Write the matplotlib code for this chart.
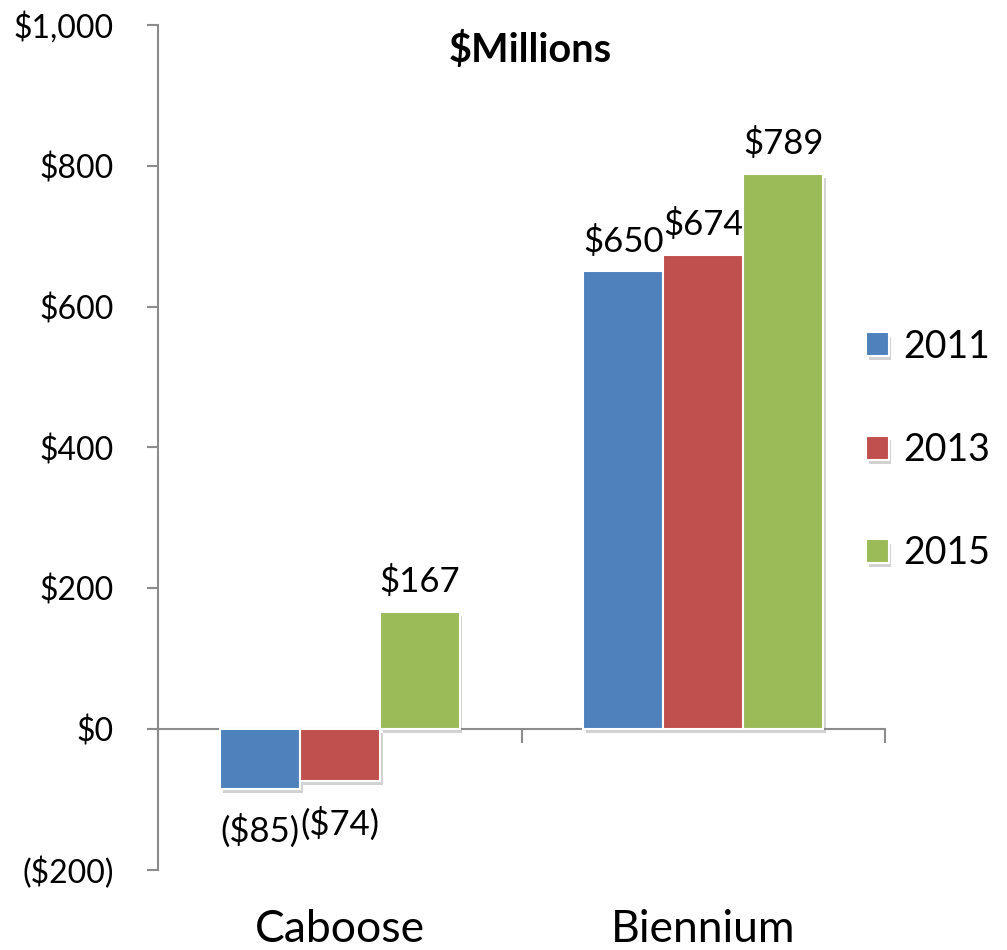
import matplotlib
matplotlib.use("Agg")
import matplotlib.pyplot as plt
import matplotlib.patheffects as pe
import numpy as np

plt.rcParams["font.family"] = ["Lato", "DejaVu Sans"]

categories = ["Caboose", "Biennium"]
years = ["2011", "2013", "2015"]
values = {
    "2011": [-85, 650],
    "2013": [-74, 674],
    "2015": [167, 789],
}
colors = {"2011": "#4F81BD", "2013": "#C0504D", "2015": "#9BBB59"}
yticks = [-200, 0, 200, 400, 600, 800, 1000]


def money(v):
    return f"(${abs(v):,})" if v < 0 else f"${v:,}"


fig = plt.figure(figsize=(10.07, 9.5), dpi=100)
ax = fig.add_axes([158 / 1007, 80 / 950, 727 / 1007, 845 / 950])

x = np.arange(len(categories))
w = 0.22
shadow = [pe.SimplePatchShadow(offset=(2, -3), shadow_rgbFace="0.5", alpha=0.35), pe.Normal()]
for i, yr in enumerate(years):
    xs = x + (i - 1) * w
    bars = ax.bar(xs, values[yr], width=w, color=colors[yr], edgecolor="white",
                  linewidth=1.5, label=yr, zorder=3)
    for b in bars:
        b.set_path_effects(shadow)
    for xi, v in zip(xs, values[yr]):
        off = 10 if v >= 0 else -18
        ax.annotate(money(v), (xi, v), xytext=(0, off), textcoords="offset points",
                    ha="center", va="bottom" if v >= 0 else "top", fontsize=25)

ax.set_xlim(-0.5, 1.5)
ax.set_ylim(-200, 1000)
ax.set_yticks(yticks)
ax.set_yticklabels([money(v) for v in yticks], fontsize=23)

for s in ["top", "right"]:
    ax.spines[s].set_visible(False)
ax.spines["bottom"].set_position(("data", 0))
for s in ["left", "bottom"]:
    ax.spines[s].set_color("#8c8c8c")
    ax.spines[s].set_linewidth(1.5)
ax.set_xticks([-0.5, 0.5, 1.5])
ax.set_xticklabels([])
ax.tick_params(axis="x", direction="out", length=10, width=1.5, color="#8c8c8c")
ax.tick_params(axis="y", direction="out", length=8, width=1.5, color="#8c8c8c", pad=24)

for xi, c in zip(x, categories):
    ax.text(xi, -0.071, c, transform=ax.get_xaxis_transform(), ha="center",
            va="center", fontsize=32)

fig.text(530 / 1007, 1 - 50 / 950, "$Millions", ha="center", va="center",
         fontsize=28.5, fontweight="bold")

fig.legend(loc="center left", bbox_to_anchor=(866 / 1007, 1 - 450 / 950),
           frameon=False, fontsize=27, handlelength=0.6, handleheight=0.6,
           handletextpad=0.4, labelspacing=1.8, borderaxespad=0, borderpad=0)

fig.savefig("out.png", dpi=100)
